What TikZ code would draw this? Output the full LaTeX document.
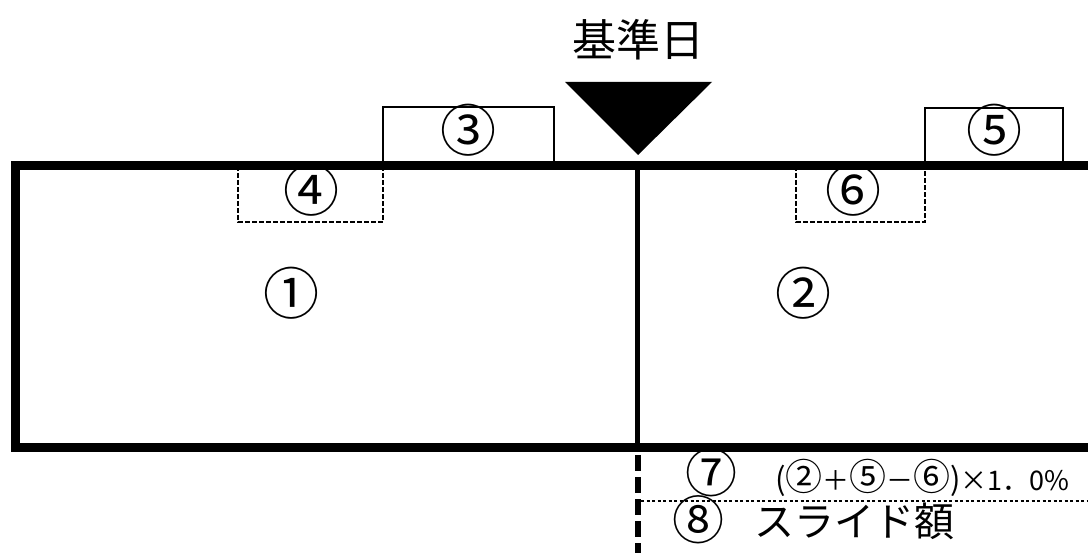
\documentclass[tikz,border=0pt]{standalone}
\usepackage{fontspec}
\setmainfont{Noto Sans CJK JP}
\newcommand\bigdig[1]{{\fontsize{37}{37}\selectfont #1}}
\newcommand\midparen[1]{{\fontsize{31}{31}\selectfont #1}}
\begin{document}
\begin{tikzpicture}[x=1pt,y=-1pt,
  lbl/.style={inner sep=0pt,font=\fontsize{56}{56}\selectfont},
  txtlbl/.style={inner sep=0pt,font=\fontsize{44}{44}\selectfont},
  smalllbl/.style={inner sep=0pt,font=\fontsize{27}{27}\selectfont},
  thickframe/.style={line width=9pt},
  midline/.style={line width=5pt},
  thinbox/.style={line width=2pt},
  dashbox/.style={line width=2.2pt,dash pattern=on 5pt off 2pt},
  dotline/.style={line width=1.8pt,dash pattern=on 3pt off 2.5pt},
  futureline/.style={line width=6pt,dash pattern=on 16pt off 6pt}]
\useasboundingbox (0,0) rectangle (1088,553);
% boxes above the line
\draw[thinbox] (383,166) -- (383,107) -- (554,107) -- (554,166);
\draw[thinbox] (925,166) -- (925,108) -- (1063,108) -- (1063,166);
% dashed boxes below the line
\draw[dashbox] (238,166) -- (238,222) -- (383,222) -- (383,166);
\draw[dashbox] (796,166) -- (796,222) -- (925,222) -- (925,166);
% main frame
\draw[thickframe] (1090,166) -- (15,166) -- (15,448) -- (1090,448);
\draw[midline] (637,166) -- (637,448);
\draw[futureline] (638,455) -- (638,553);
\draw[dotline] (641,501) -- (1088,501);
% marker
\fill (565,82) -- (712,82) -- (638,155) -- cycle;
\node[txtlbl] (kijun) at (638,40) {基準日};
\node[lbl] (n1) at (291,293) {①};
\node[lbl] (n2) at (803,293) {②};
\node[lbl] (n3) at (468,130) {③};
\node[lbl] (n4) at (311,190) {④};
\node[lbl] (n5) at (994,130) {⑤};
\node[lbl] (n6) at (853,190) {⑥};
\node[lbl,font=\fontsize{52}{52}\selectfont] (n7) at (711,473) {⑦};
\node[lbl,font=\fontsize{52}{52}\selectfont] (n8) at (698,520) {⑧};
\node[smalllbl,anchor=east] (formula) at (1070,478) {\midparen{(}\bigdig{②}＋\bigdig{⑤}－\bigdig{⑥}\midparen{)}×1．0\%};
\node[txtlbl,anchor=west,font=\fontsize{40}{40}\selectfont] (slide) at (754,521) {スライド額};
\end{tikzpicture}
\end{document}
